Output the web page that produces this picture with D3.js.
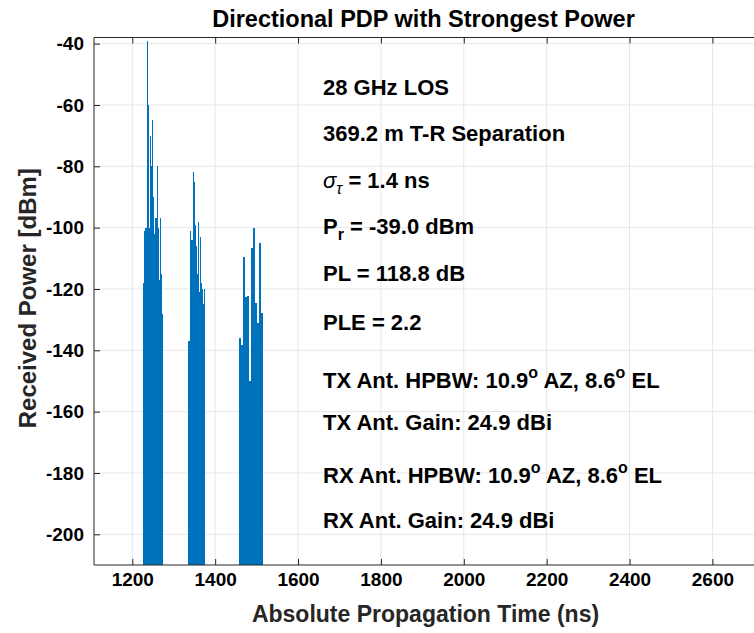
<!DOCTYPE html>
<html><head><meta charset="utf-8">
<script src="https://cdn.jsdelivr.net/npm/d3@7"></script>
<style>
body{margin:0;background:#fff}
text{font-family:"Liberation Sans",Arial,Helvetica,sans-serif;font-weight:bold;fill:#000}
</style>
</head><body><svg id="c" width="754" height="633"></svg>
<script>
const xTicks=[1200,1400,1600,1800,2000,2200,2400,2600];
const yTicks=[-200,-180,-160,-140,-120,-100,-80,-60,-40];
const xDomain=[1107.6,2707.6];
const yDomain=[-210,-38];

const cluster1Times=[1226,1228.5,1231,1233.5,1236,1238.5,1241,1243.5,1246,1248.5,1251,1253.5,1256,1258.5,1261,1263.5,1266,1268.5,1271];
const cluster1Power=[-118,-101,-100,-100,-39,-60,-100,-70,-80,-65,-90,-102,-97,-80,-100,-117,-97,-115,-128];
const cluster2Times=[1334,1336.5,1339,1341.5,1344,1346.5,1349,1351.5,1354,1356.5,1359,1361.5,1364,1366.5,1369,1371.5,1374];
const cluster2Power=[-137,-137,-101,-104,-104,-82,-85,-99,-106,-115,-98,-121,-103,-118,-120,-125,-120];
const cluster3Times=[1457.6,1462.4,1466.5,1471.3,1476.1,1481,1485.8,1490.6,1495.4,1500.3,1505.1,1509.9];
const cluster3Power=[-136,-138.3,-109.5,-122.5,-122.3,-150,-106.7,-100.2,-124.6,-131,-105,-127.7];

const svg=d3.select("#c");
const L=94,R=757,T=37.5,B=565;
const x=d3.scaleLinear().domain(xDomain).range([L,R]);
const y=d3.scaleLinear().domain(yDomain).range([B,T]);

// grid
const g=svg.append("g");
g.selectAll(".gx").data(xTicks).enter().append("line")
 .attr("x1",d=>x(d)).attr("x2",d=>x(d)).attr("y1",T).attr("y2",B)
 .attr("stroke","#e6e6e6").attr("stroke-width",1);
g.selectAll(".gy").data(yTicks).enter().append("line")
 .attr("x1",L).attr("x2",R).attr("y1",d=>y(d)).attr("y2",d=>y(d))
 .attr("stroke","#e6e6e6").attr("stroke-width",1);

// bars
function drawCluster(times,power){
  const data=times.map((t,i)=>({t,p:power[i],w:(i<times.length-1?times[i+1]-t:t-times[i-1])}));
  svg.append("g").selectAll("rect").data(data).enter().append("rect")
   .attr("x",d=>x(d.t)).attr("width",d=>x(d.t+d.w)-x(d.t))
   .attr("y",d=>y(d.p)).attr("height",d=>B-y(d.p))
   .attr("fill","#0072BD").attr("shape-rendering","crispEdges");
}
drawCluster(cluster1Times,cluster1Power);
drawCluster(cluster2Times,cluster2Power);
drawCluster(cluster3Times,cluster3Power);

// axes
const fmt=d=>String(d);
const xAxisB=d3.axisBottom(x).tickValues(xTicks).tickSize(-6).tickPadding(8).tickFormat(fmt);
const xAxisT=d3.axisTop(x).tickValues(xTicks).tickSize(-6).tickFormat("");
const yAxisL=d3.axisLeft(y).tickValues(yTicks).tickSize(-6).tickPadding(10).tickFormat(fmt);
function style(sel){
  sel.select(".domain").attr("stroke","#262626").attr("stroke-width",1);
  sel.selectAll(".tick line").attr("stroke","#262626");
  sel.selectAll("text").attr("font-size",19).attr("font-family","Liberation Sans, Arial, sans-serif").attr("font-weight","bold").attr("fill","#262626");
}
const gb=svg.append("g").attr("transform",`translate(0,${B})`).call(xAxisB);
gb.select(".domain").attr("d",`M${L},0H${R}`);
style(gb);
const gt=svg.append("g").attr("transform",`translate(0,${T})`).call(xAxisT);
gt.select(".domain").attr("d",`M${L},0H${R}`);
style(gt);
const gl=svg.append("g").attr("transform",`translate(${L},0)`).call(yAxisL);
gl.select(".domain").attr("d",`M0,${T}V${B}`);
style(gl);

// labels
svg.append("text").attr("x",(L+R)/2-2).attr("y",27).attr("text-anchor","middle").attr("font-size",23.5).text("Directional PDP with Strongest Power");
svg.append("text").attr("x",(L+R)/2).attr("y",622).attr("text-anchor","middle").attr("font-size",23).style("fill","#262626").text("Absolute Propagation Time (ns)");
svg.append("text").attr("transform",`translate(36,${(T+B)/2-3}) rotate(-90)`).attr("text-anchor","middle").attr("font-size",24).style("fill","#262626").text("Received Power [dBm]");

// annotations
const tx=323, fs=22, sub=16;
function ann(yy){return svg.append("text").attr("x",tx).attr("y",yy).attr("font-size",fs);}
ann(95).text("28 GHz LOS");
ann(141).text("369.2 m T-R Separation");
let s=ann(188);
s.append("tspan").attr("font-style","italic").attr("font-weight","normal").text("σ");
s.append("tspan").attr("font-style","italic").attr("font-weight","normal").attr("font-size",sub).attr("dy",6).text("τ");
s.append("tspan").attr("dy",-6).text(" = 1.4 ns");
s=ann(234);
s.append("tspan").text("P");
s.append("tspan").attr("font-size",sub).attr("dy",6).text("r");
s.append("tspan").attr("dy",-6).text(" = -39.0 dBm");
ann(281).text("PL = 118.8 dB");
ann(330).text("PLE = 2.2");
function hpbw(yy,lab){
  const t=ann(yy);
  t.append("tspan").text(lab+" Ant. HPBW: 10.9");
  t.append("tspan").attr("font-size",sub).attr("dy",-10).text("o");
  t.append("tspan").attr("dy",10).text(" AZ, 8.6");
  t.append("tspan").attr("font-size",sub).attr("dy",-10).text("o");
  t.append("tspan").attr("dy",10).text(" EL");
}
hpbw(388,"TX");
ann(430).text("TX Ant. Gain: 24.9 dBi");
hpbw(483,"RX");
ann(528).text("RX Ant. Gain: 24.9 dBi");
</script>
</body></html>
